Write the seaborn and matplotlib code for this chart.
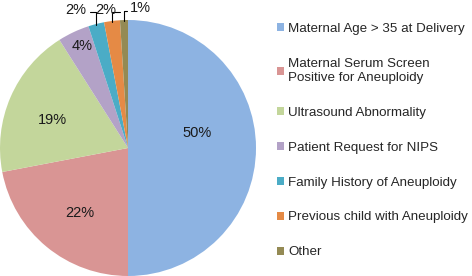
import numpy as np
import seaborn as sns
import matplotlib.pyplot as plt
from matplotlib.patches import Patch

# ======================================================
# DATA
# ======================================================

categorias = [
    "Maternal Age > 35 at Delivery",
    "Maternal Serum Screen\nPositive for Aneuploidy",
    "Ultrasound Abnormality",
    "Patient Request for NIPS",
    "Family History of Aneuploidy",
    "Previous child with Aneuploidy",
    "Other",
]
porcentajes = [50, 22, 19, 4, 2, 2, 1]
etiquetas = ["50%", "22%", "19%", "4%", "2%", "2%", "1%"]

colores = ["#8DB3E2", "#D99594", "#C3D69B", "#B3A2C7", "#4BACC6", "#E58A45", "#948A54"]

# ======================================================
# FIGURA
# ======================================================

sns.set_style("white")
plt.rcParams["font.family"] = ["Liberation Sans", "DejaVu Sans"]

fig = plt.figure(figsize=(4.72, 2.76), dpi=100)
ax = fig.add_axes([0.0, 0.0, 256 / 472, 256 / 276])

wedges, _ = ax.pie(
    porcentajes,
    colors=colores,
    startangle=90,
    counterclock=False,
    radius=1.0,
    wedgeprops=dict(linewidth=0),
)
ax.set_xlim(-1, 1)
ax.set_ylim(-1, 1)
ax.set_aspect("equal")
ax.axis("off")

# etiquetas interiores: (radio, ajuste angular)
interior = {0: (0.55, 12), 1: (0.63, 3), 2: (0.63, 3), 3: (0.87, -1)}
for i, (r, da) in interior.items():
    w = wedges[i]
    ang = np.deg2rad((w.theta1 + w.theta2) / 2 + da)
    ax.text(r * np.cos(ang), r * np.sin(ang), etiquetas[i],
            ha="center", va="center", fontsize=10.5, color="#1a1a1a")

# etiquetas exteriores con lineas guia
exterior = {4: (-0.41, 1.08), 5: (-0.17, 1.08), 6: (0.10, 1.09)}
for i, (tx, ty) in exterior.items():
    w = wedges[i]
    ang = np.deg2rad((w.theta1 + w.theta2) / 2)
    ex, ey = np.cos(ang), np.sin(ang)
    ax.text(tx, ty, etiquetas[i], ha="center", va="center",
            fontsize=10.5, color="#1a1a1a", clip_on=False)
    if i == 6:
        x0 = tx - 0.11
    else:
        x0 = tx + 0.11
    ax.plot([x0, ex, ex], [ty - 0.02, ty - 0.02, ey - 0.01],
            color="black", lw=0.8, clip_on=False)

# ======================================================
# LEYENDA
# ======================================================

handles = [Patch(facecolor=c, edgecolor="none") for c in colores]
fig.legend(
    handles,
    categorias,
    loc="upper left",
    bbox_to_anchor=(277 / 472, 1 - 23 / 276),
    frameon=False,
    fontsize=9.6,
    handlelength=0.55,
    handleheight=0.55,
    handletextpad=0.3,
    labelspacing=1.72,
    borderpad=0,
    borderaxespad=0,
)

plt.savefig("out.png", dpi=100)
plt.close()
